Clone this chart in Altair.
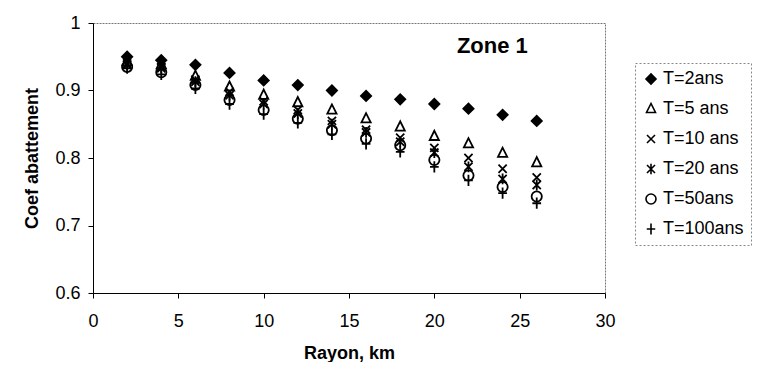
import altair as alt
import pandas as pd

rayon = [2, 4, 6, 8, 10, 12, 14, 16, 18, 20, 22, 24, 26]
series = ["T=2ans", "T=5 ans", "T=10 ans", "T=20 ans", "T=50ans", "T=100ans"]
t2 = [0.950, 0.945, 0.938, 0.926, 0.915, 0.908, 0.900, 0.892, 0.887, 0.880, 0.873, 0.864, 0.855]
t5 = [0.943, 0.938, 0.921, 0.905, 0.893, 0.882, 0.871, 0.858, 0.846, 0.832, 0.821, 0.807, 0.793]
t10 = [0.940, 0.935, 0.916, 0.898, 0.884, 0.871, 0.855, 0.842, 0.830, 0.815, 0.800, 0.784, 0.771]
t20 = [0.938, 0.933, 0.913, 0.893, 0.880, 0.866, 0.850, 0.838, 0.824, 0.808, 0.787, 0.769, 0.760]
t50 = [0.935, 0.927, 0.908, 0.886, 0.871, 0.858, 0.841, 0.829, 0.819, 0.797, 0.774, 0.757, 0.743]
t100 = [0.933, 0.924, 0.903, 0.880, 0.865, 0.852, 0.835, 0.821, 0.809, 0.787, 0.767, 0.748, 0.733]
values = [t2, t5, t10, t20, t50, t100]

shapes = [
    "diamond",
    "M0,-1.1L-0.9,0.7L0.9,0.7Z",
    "M-0.8,-0.8L0.8,0.8M-0.8,0.8L0.8,-0.8",
    "M-0.8,-0.8L0.8,0.8M-0.8,0.8L0.8,-0.8M0,-1.05L0,1.05",
    "circle",
    "M0,-1.1L0,1.1M-0.85,0L0.85,0",
]
fills = ["black", "transparent", "transparent", "transparent", "transparent", "transparent"]
strokes = ["black"] * 6

rows = []
for name, vals in zip(series, values):
    for r, v in zip(rayon, vals):
        rows.append({"Rayon": r, "Coef": v, "T": name})
df = pd.DataFrame(rows)

FONT = "Liberation Sans"
leg = alt.Legend(title=None, orient="none", legendX=542, legendY=40)

points = alt.Chart(df).mark_point(filled=True, strokeWidth=1.8, size=105, opacity=1).encode(
    x=alt.X("Rayon:Q", scale=alt.Scale(domain=[0, 30], nice=False),
            axis=alt.Axis(title="Rayon, km", values=[0, 5, 10, 15, 20, 25, 30],
                          labelPadding=14, titlePadding=14, labelFlush=False)),
    y=alt.Y("Coef:Q", scale=alt.Scale(domain=[0.6, 1], nice=False, zero=False),
            axis=alt.Axis(title="Coef abattement", values=[0.6, 0.7, 0.8, 0.9, 1.0],
                          format=".1~f", labelPadding=8, minExtent=85, maxExtent=85,
                          titleX=-61, titleBaseline="middle", labelFlush=False)),
    shape=alt.Shape("T:N", scale=alt.Scale(domain=series, range=shapes), legend=leg),
    fill=alt.Fill("T:N", scale=alt.Scale(domain=series, range=fills), legend=leg),
    stroke=alt.Stroke("T:N", scale=alt.Scale(domain=series, range=strokes), legend=leg),
)

zone = alt.Chart(pd.DataFrame({"x": [23.4], "y": [0.9655], "t": ["Zone 1"]})).mark_text(
    font=FONT, fontSize=22, fontWeight="bold", color="black"
).encode(x="x:Q", y="y:Q", text="t:N")

chart = alt.layer(points, zone).properties(
    width=512, height=270,
    padding={"left": 0, "top": 6, "right": 0, "bottom": 0},
).configure_view(
    stroke="#777", strokeDash=[2, 1], strokeWidth=1
).configure_axis(
    labelFont=FONT, labelFontSize=18, labelColor="black",
    titleFont=FONT, titleFontSize=18, titleFontWeight="bold", titleColor="black",
    domainColor="black", tickColor="black", tickSize=5, grid=False,
).configure_legend(
    labelFont=FONT, labelFontSize=18, labelColor="black",
    symbolSize=100, symbolStrokeWidth=1.6,
    rowPadding=12, padding=7, strokeColor="#888", strokeDash=[2, 2],
    fillColor="white", labelOffset=3,
)

chart.save("out.html", embed_options={"renderer": "svg", "actions": False})
